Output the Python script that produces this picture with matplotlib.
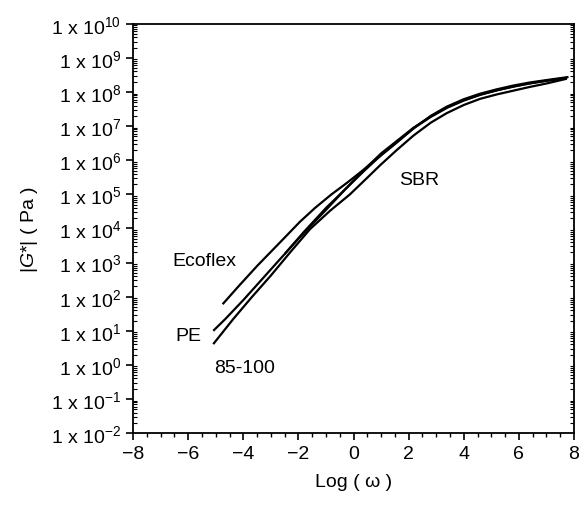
import numpy as np
import matplotlib
matplotlib.use("Agg")
import matplotlib.pyplot as plt
from matplotlib.ticker import MultipleLocator, LogLocator, FixedLocator, NullFormatter, FuncFormatter

plt.rcParams['font.family'] = ['Liberation Sans', 'DejaVu Sans']
plt.rcParams['mathtext.fontset'] = 'custom'
plt.rcParams['mathtext.rm'] = 'Liberation Sans'
plt.rcParams['mathtext.it'] = 'Liberation Sans:italic'

# log(omega) and log10(|G*|)
ecoflex_x = [-4.75, -4.2, -3.5, -2.55, -1.94, -1.4, -0.8, -0.25, 0.3, 0.9, 1.57,
             2.17, 2.8, 3.38, 4.0, 4.59, 5.2, 5.8, 6.4, 7.0, 7.8]
ecoflex_y = [1.78, 2.28, 2.9, 3.69, 4.2, 4.6, 5.0, 5.33, 5.68, 6.08, 6.52,
             6.93, 7.3, 7.57, 7.79, 7.95, 8.08, 8.19, 8.28, 8.35, 8.44]

pe_x = [-5.09, -4.66, -4.0, -3.0, -2.0, -0.97, -0.3, 0.42, 1.0, 1.5, 2.17, 2.8, 3.38,
        4.0, 4.59, 5.2, 5.8, 6.4, 7.0, 7.75]
pe_y = [1.0, 1.34, 1.9, 2.8, 3.7, 4.57, 5.15, 5.75, 6.2, 6.52, 6.95, 7.28, 7.55,
        7.76, 7.92, 8.05, 8.16, 8.25, 8.33, 8.42]

sbr_x = [-2.5, -1.8, -1.0, -0.3, 0.4, 1.0, 1.6, 2.2, 2.8, 3.4, 4.0, 4.6, 5.2, 5.8, 6.4, 7.0, 7.7]
sbr_y = [3.25, 3.9, 4.6, 5.15, 5.7, 6.15, 6.55, 6.95, 7.27, 7.54, 7.75, 7.92, 8.05, 8.16,
         8.26, 8.33, 8.41]

b85_x = [-5.09, -4.37, -3.7, -3.0, -2.3, -1.58, -0.85, -0.13, 0.45, 0.96, 1.57, 2.17, 2.8,
         3.38, 4.0, 4.59, 5.2, 5.8, 6.4, 7.0, 7.74]
b85_y = [0.61, 1.34, 1.98, 2.62, 3.3, 3.98, 4.52, 5.0, 5.45, 5.85, 6.3, 6.72, 7.1,
         7.38, 7.62, 7.8, 7.93, 8.04, 8.15, 8.25, 8.39]

fig = plt.figure(figsize=(5.81, 5.06), dpi=100)
ax = fig.add_axes([0.229, 0.142, 0.759, 0.809])

for xs, ys in [(ecoflex_x, ecoflex_y), (pe_x, pe_y), (sbr_x, sbr_y), (b85_x, b85_y)]:
    ax.plot(xs, 10.0 ** np.array(ys), color='black', lw=1.6, solid_capstyle='butt')

ax.set_yscale('log')
ax.set_xlim(-8, 8)
ax.set_ylim(1e-2, 1e10)
ax.xaxis.set_major_locator(MultipleLocator(2))
ax.xaxis.set_minor_locator(MultipleLocator(0.5))
ax.xaxis.set_major_formatter(FuncFormatter(lambda v, p: f'{v:g}'.replace('-', '\u2212')))
ax.yaxis.set_major_locator(FixedLocator([10.0 ** d for d in range(-2, 11)]))
ax.yaxis.set_minor_locator(LogLocator(base=10, subs=np.arange(2, 10), numticks=20))
ax.yaxis.set_minor_formatter(NullFormatter())
ax.yaxis.set_major_formatter(FuncFormatter(lambda v, p: f'1 x 10$^{{{int(round(np.log10(v)))}}}$'))

ax.tick_params(axis='both', which='major', labelsize=14, length=5, width=1.2, direction='out')
ax.tick_params(axis='x', which='minor', length=3, width=1, direction='out')
ax.tick_params(axis='y', which='minor', length=3, width=0.8, direction='in', right=True)
for s in ax.spines.values():
    s.set_linewidth(1.3)

ax.set_xlabel('Log ( \u03c9 )', fontsize=14, labelpad=8)
ax.set_ylabel('|$G$*| ( Pa )', fontsize=14, labelpad=8)

ax.text(-5.4, 10 ** 3.05, 'Ecoflex', fontsize=14, ha='center', va='center')
ax.text(-6.0, 10 ** 0.85, 'PE', fontsize=14, ha='center', va='center')
ax.text(-3.95, 10 ** -0.07, '85-100', fontsize=14, ha='center', va='center')
ax.text(2.4, 10 ** 5.45, 'SBR', fontsize=14, ha='center', va='center')

fig.savefig('out.png', dpi=100)
